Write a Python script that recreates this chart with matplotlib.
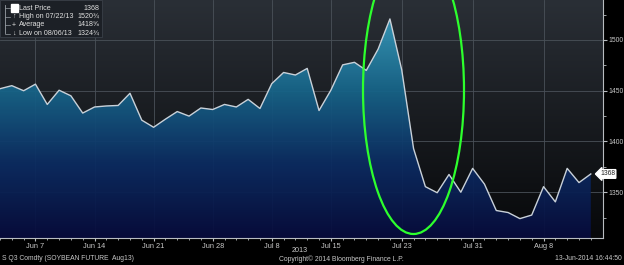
import matplotlib
matplotlib.use("Agg")
import matplotlib.pyplot as plt
import numpy as np
from matplotlib.colors import LinearSegmentedColormap, to_rgb
from matplotlib.patches import Ellipse, Rectangle

plt.rcParams['font.family'] = ['Liberation Sans', 'DejaVu Sans']

# trading days (Jun 4 - Aug 14 2013), closing price in cents
prices = [1452, 1455, 1450, 1456.5, 1436.5, 1450.5, 1445, 1428, 1434, 1435,
          1435.5, 1447.5, 1421, 1414, 1422, 1429.5, 1425, 1433, 1431.5, 1436.5,
          1434, 1441.5, 1432.5, 1457, 1468, 1465.5, 1472, 1430.5, 1450.5, 1475.5,
          1478, 1470, 1491, 1520.75, 1470.5, 1393, 1355.5, 1349.5, 1367.5, 1350,
          1373.5, 1358, 1332, 1330, 1324, 1327.5, 1355.5, 1340.5, 1373.5, 1359.5,
          1368]
tick_pos = [3, 8, 13, 18, 23, 28, 34, 40, 46]
tick_labels = ['Jun 7', 'Jun 14', 'Jun 21', 'Jun 28', 'Jul 8', 'Jul 15', 'Jul 23', 'Jul 31', 'Aug 8']
y_ticks = [1350, 1400, 1450, 1500]
legend_names = ['Last Price', 'High on 07/22/13', 'Average', 'Low on 08/06/13']
legend_vals = ['1368', '1520\u00be', '1418\u215d', '1324\u00be']

W, H = 624, 265
fig = plt.figure(figsize=(W / 100, H / 100), dpi=100, facecolor='black')
ax = fig.add_axes([0, 1 - 238 / H, 603 / W, 238 / H])
ax.set_facecolor('black')

x = np.arange(len(prices))
xmax = 603 / 11.816
ymin, ymax = 1304.9, 1539.4
ax.set_xlim(0, xmax)
ax.set_ylim(ymin, ymax)

# background gradient
top, bot = np.array(to_rgb('#2a2f36')), np.array(to_rgb('#07080a'))
t = np.linspace(0, 1, 256)[:, None, None]
bg = top * (1 - t) + bot * t
ax.imshow(bg, extent=[0, xmax, ymin, ymax], aspect='auto', origin='upper', zorder=0)

# grid
for p in tick_pos:
    ax.axvline(p, color='#4a5159', lw=0.6, zorder=1)
for v in y_ticks:
    ax.axhline(v, color='#4a5159', lw=0.6, zorder=1)

# area fill gradient
cmap = LinearSegmentedColormap.from_list('area', [
    (0.0, '#070c3c'), (0.32, '#0c2d62'), (0.62, '#176488'), (1.0, '#3fa6c6')])
grad = np.linspace(1, 0, 256)[:, None]
img = ax.imshow(grad, cmap=cmap, extent=[0, xmax, ymin, ymax], aspect='auto',
                origin='upper', zorder=2, vmin=0, vmax=1, alpha=0.95)
poly = ax.fill_between(x, prices, ymin, facecolor='none', edgecolor='none')
img.set_clip_path(poly.get_paths()[0], transform=ax.transData)
ax.plot(x, prices, color='#c9d1d9', lw=1.0, zorder=3)

# axes styling
for s in ['top', 'left']:
    ax.spines[s].set_visible(False)
for s in ['right', 'bottom']:
    ax.spines[s].set_color('#b8bcc0')
    ax.spines[s].set_linewidth(0.8)
ax.yaxis.tick_right()
ax.set_yticks(y_ticks)
ax.set_yticks(np.arange(1325, 1540, 50), minor=True)
ax.set_xticks(tick_pos)
ax.set_xticklabels(tick_labels)
ax.set_xticks(x, minor=True)
ax.tick_params(axis='both', which='both', colors='#b8bcc0', labelcolor='#c8c8c8',
               labelsize=5.3, direction='out')
ax.tick_params(axis='y', which='major', length=3, pad=0.8, labelsize=4.9)
ax.tick_params(axis='y', which='minor', length=2)
ax.tick_params(axis='x', which='major', length=2.5, pad=1)
ax.tick_params(axis='x', which='minor', length=1.5)

# last price label
ax.text(0.995, (1368 - ymin) / (ymax - ymin), '1368', transform=ax.transAxes,
        fontsize=4.9, color='#202020', va='center', ha='left', zorder=6, clip_on=False,
        bbox=dict(boxstyle='larrow,pad=0.12', fc='white', ec='white'))

# legend box
px = lambda xx, yy: (xx / W, 1 - yy / H)
fig.patches.append(Rectangle(px(0, 37), 102 / W, 37 / H, transform=fig.transFigure,
                             fc='#1c2026', ec='#3a4048', lw=0.6, zorder=5))
fig.add_artist(plt.Line2D([5 / W, 5 / W], [1 - 5 / H, 1 - 33 / H], color='#9aa0a6',
                          lw=0.6, zorder=6))
for i, (nm, vl) in enumerate(zip(legend_names, legend_vals)):
    yy = 8 + i * 8.5
    fig.add_artist(plt.Line2D([5 / W, 10 / W], [1 - yy / H, 1 - yy / H], color='#9aa0a6',
                              lw=0.5, zorder=6))
    fig.text(*px(19, yy), nm, fontsize=5.1, color='#e0e0e0', va='center', ha='left', zorder=8)
    fig.text(*px(99, yy), vl, fontsize=5.1, color='#e0e0e0', va='center', ha='right', zorder=8)
fig.patches.append(Rectangle(px(11, 12), 7 / W, 8 / H, transform=fig.transFigure,
                             fc='white', ec='white', zorder=7))
for i, sym in zip([1, 2, 3], ['\u2191', '+', '\u2193']):
    fig.text(*px(14, 8 + i * 8.5), sym, fontsize=5, color='#e0e0e0', va='center',
             ha='center', zorder=8)

# green ellipse
ax.add_patch(Ellipse((413.5 / 100, (H - 90) / 100), 1.01, 2.88, transform=fig.dpi_scale_trans,
                     fill=False, ec='#2dff2d', lw=1.6, zorder=7, clip_on=False))

# footer
fig.text(300 / W, 1 - 251 / H, '2013', fontsize=5.2, color='#c8c8c8', ha='center', va='center')
fig.text(2 / W, 1 - 259 / H, 'S Q3 Comdty (SOYBEAN FUTURE  Aug13)', fontsize=4.9,
         color='#c8c8c8', ha='left', va='center')
fig.text(341 / W, 1 - 259 / H, 'Copyright\u00a9 2014 Bloomberg Finance L.P.', fontsize=4.9,
         color='#c8c8c8', ha='center', va='center')
fig.text(622 / W, 1 - 259 / H, '13-Jun-2014 16:44:50', fontsize=4.9,
         color='#c8c8c8', ha='right', va='center')

fig.savefig('out.png', dpi=100, facecolor='black')
